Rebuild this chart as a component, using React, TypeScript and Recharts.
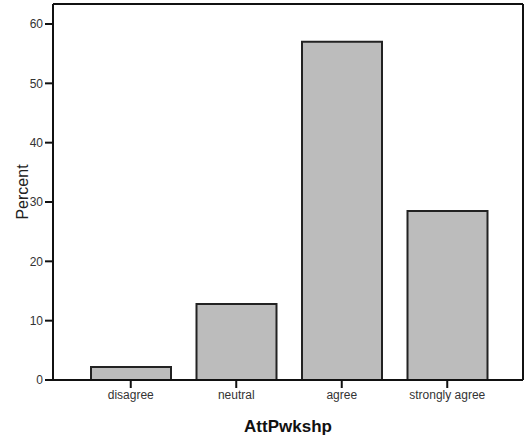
import React from "react";
import { BarChart, Bar, XAxis, YAxis, Label, ReferenceLine } from "recharts";

const categories = ["disagree", "neutral", "agree", "strongly agree"];
const percents = [2.2, 12.8, 57.0, 28.5];
const yTicks = [0, 10, 20, 30, 40, 50, 60];
const yMax = 63.37;

const data = categories.map((c, i) => ({ name: c, value: percents[i] }));

const font = "'Liberation Sans', Arial, sans-serif";

export default function App() {
  return (
    <div style={{ position: "absolute", left: 0, top: 0, background: "#fff" }}>
      <BarChart
        width={527}
        height={438}
        data={data}
        margin={{ top: 3, right: 3, bottom: 0, left: 0 }}
        barCategoryGap={0}
      >
        <XAxis
          dataKey="name"
          height={58}
          padding={{ left: 25, right: 23 }}
          axisLine={{ stroke: "#111", strokeWidth: 2 }}
          tickLine={{ stroke: "#111", strokeWidth: 2 }}
          tickSize={8}
          tick={{ fill: "#333", fontSize: 12, fontFamily: font }}
          interval={0}
        >
          <Label
            value="AttPwkshp"
            position="insideBottom"
            offset={6}
            style={{ fill: "#111", fontSize: 17, fontWeight: "bold", fontFamily: font }}
          />
        </XAxis>
        <XAxis
          xAxisId="top"
          dataKey="name"
          orientation="top"
          height={1}
          tick={false}
          tickLine={false}
          axisLine={{ stroke: "#111", strokeWidth: 2 }}
        />
        <YAxis
          width={53}
          domain={[0, yMax]}
          ticks={yTicks}
          allowDataOverflow
          axisLine={{ stroke: "#111", strokeWidth: 2 }}
          tickLine={{ stroke: "#111", strokeWidth: 2 }}
          tickSize={8}
          tick={{ fill: "#333", fontSize: 12, fontFamily: font }}
        >
          <Label
            value="Percent"
            angle={-90}
            position="insideLeft"
            offset={22}
            style={{ fill: "#222", fontSize: 16, fontFamily: font, textAnchor: "middle" }}
          />
        </YAxis>
        <YAxis
          yAxisId="right"
          orientation="right"
          width={1}
          domain={[0, yMax]}
          tick={false}
          tickLine={false}
          axisLine={{ stroke: "#111", strokeWidth: 2 }}
        />
        <ReferenceLine y={yMax} stroke="#111" strokeWidth={2} />
        <Bar
          dataKey="value"
          barSize={80}
          fill="#bcbcbc"
          stroke="#222"
          strokeWidth={2}
          isAnimationActive={false}
        />
      </BarChart>
    </div>
  );
}
